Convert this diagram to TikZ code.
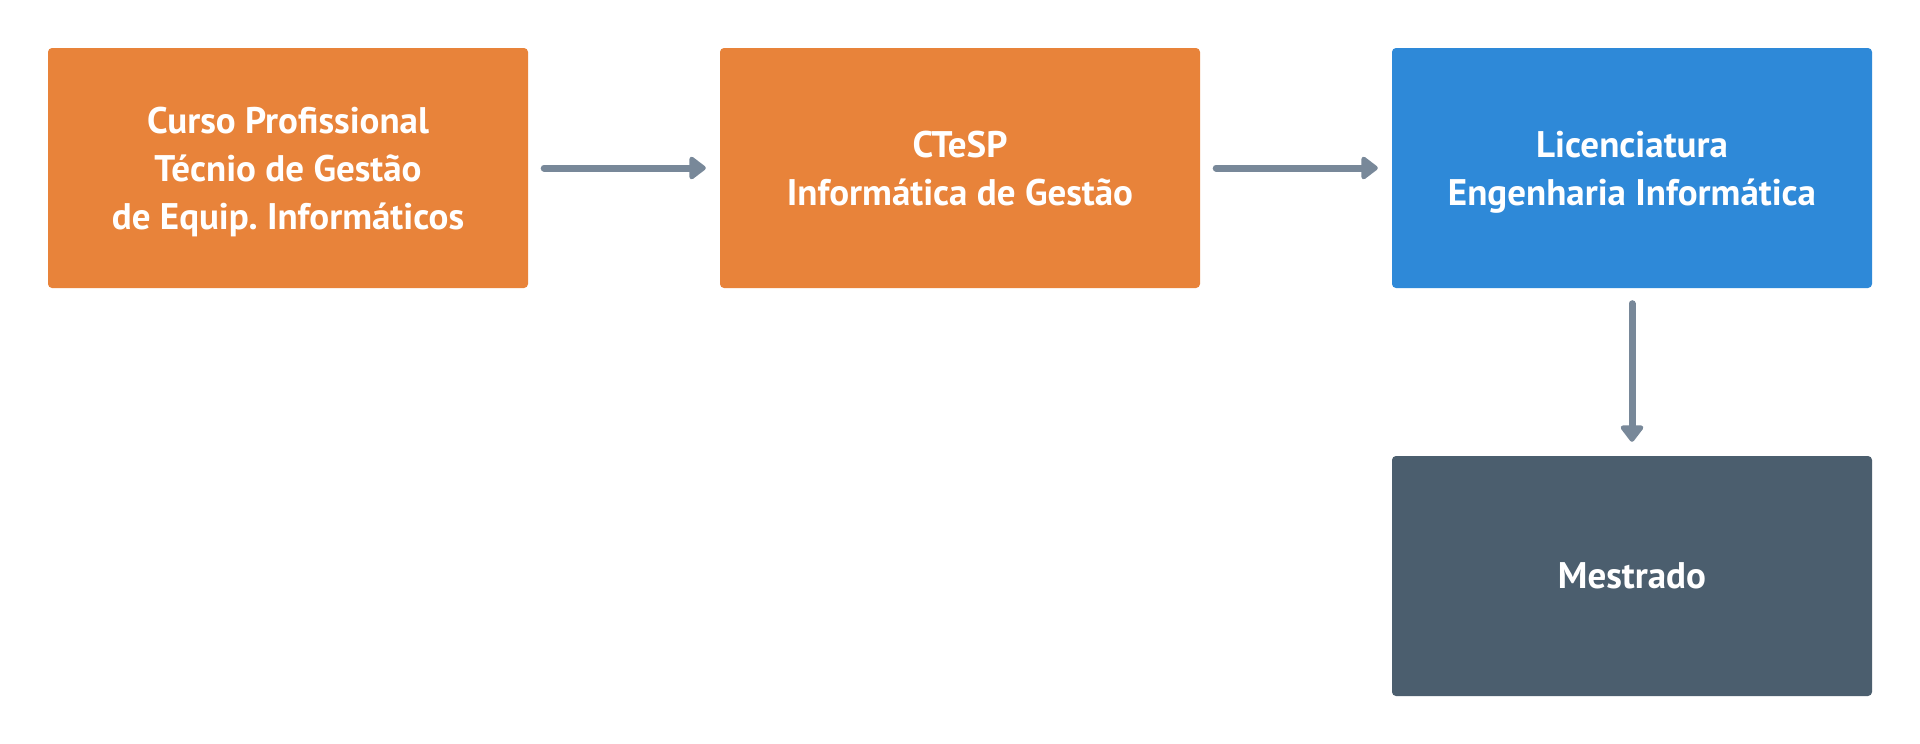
\documentclass[tikz,border=0pt]{standalone}
\usepackage{fontspec}
\setmainfont{PT Sans}
\usetikzlibrary{arrows.meta,backgrounds}
\definecolor{boxorange}{HTML}{E8833A}
\definecolor{boxblue}{HTML}{2E89D8}
\definecolor{boxdark}{HTML}{4B5E6E}
\definecolor{arrowgray}{HTML}{788899}
\tikzset{
  stagebox/.style={rectangle, rounded corners=4pt, minimum width=480pt, minimum height=240pt,
    inner sep=0pt, text=white, align=center, text depth=0pt,
    font=\fontsize{37}{48}\selectfont\bfseries},
  softshadow/.style={fill=black, fill opacity=0.012, draw=none},
  flowarrow/.style={draw=arrowgray, line width=7pt, line cap=round,
    -{Triangle[length=18pt,width=26pt,round]}}
}
\begin{document}
\frenchspacing
\begin{tikzpicture}[x=1pt,y=-1pt]
\useasboundingbox[fill=white] (0,0) rectangle (1920,744);
\node[stagebox, fill=boxorange] (b1) at (288,168) {Curso Profissional\\Técnio de Gestão\\de Equip. Informáticos};
\node[stagebox, fill=boxorange] (b2) at (960,168) {CTeSP\\Informática de Gestão};
\node[stagebox, fill=boxblue] (b3) at (1632,168) {Licenciatura\\Engenharia Informática};
\node[stagebox, fill=boxdark] (b4) at (1632,576) {Mestrado};
\begin{scope}[on background layer]
  \foreach \n in {b1,b2,b3,b4}{
    \foreach \r in {1,...,8}{
      \fill[softshadow, rounded corners=\r pt+4pt]
        ([xshift=-\r pt, yshift=-4pt+\r pt]\n.north west) rectangle ([xshift=\r pt, yshift=-4pt-\r pt]\n.south east);
    }
  }
\end{scope}
\draw[flowarrow, shorten <=16pt, shorten >=14pt] (b1.east) -- (b2.west);
\draw[flowarrow, shorten <=16pt, shorten >=14pt] (b2.east) -- (b3.west);
\draw[flowarrow, shorten <=15.5pt, shorten >=14pt] (b3.south) -- (b4.north);
\end{tikzpicture}
\end{document}
